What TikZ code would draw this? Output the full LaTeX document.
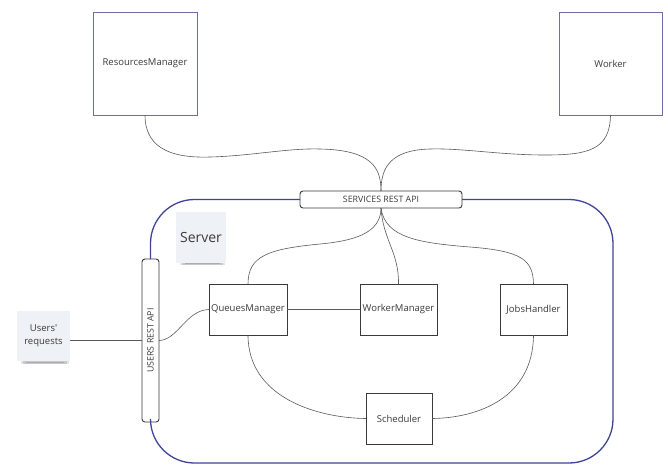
\documentclass[tikz,border=0pt]{standalone}
\usepackage{fontspec}
\setmainfont{Open Sans}
\usepackage{graphicx}
\definecolor{topbox}{HTML}{6B6FA8}
\definecolor{srvblue}{HTML}{3F4499}
\definecolor{boxline}{HTML}{3A3A3A}
\definecolor{wire}{HTML}{5A5A5A}
\definecolor{txt}{HTML}{3A3A3A}
\definecolor{note}{HTML}{EEF2F7}
\tikzset{
  topbox/.style={draw=topbox,line width=1pt,inner sep=0pt,outer sep=0pt,font=\fontsize{9.5}{11}\selectfont,text=txt},
  compbox/.style={draw=boxline,line width=1pt,inner sep=0pt,outer sep=0pt,fill=white,font=\fontsize{9.5}{11}\selectfont,text=txt},
  apibox/.style={draw=boxline,line width=0.9pt,rounded corners=3pt,inner sep=0pt,outer sep=0pt,fill=white,font=\fontsize{8.8}{10}\selectfont,text=txt},
  notebox/.style={fill=note,inner sep=0pt,outer sep=0pt,text=txt,align=center},
  wireline/.style={draw=wire,line width=0.6pt},
  srvline/.style={draw=srvblue,line width=1.3pt,rounded corners=44pt}
}
\begin{document}
\begin{tikzpicture}[x=1pt,y=-1pt]
\useasboundingbox (0,0) rectangle (668,464);
\fill[white] (0,0) rectangle (668,464);

% server outline
\node[apibox,minimum width=162,minimum height=17] (sapi) at (381,199.5) {SERVICES REST API};
\node[apibox,minimum width=17,minimum height=163] (uapi) at (150.5,340.5) {\rotatebox{90}{USERS REST API}};
\draw[srvline] (uapi.north) -- (150.5,199.5) -- (sapi.west);
\draw[srvline] (sapi.east) -- (613,199.5) -- (613,463) -- (150.5,463) -- (uapi.south);

% top boxes
\node[topbox,minimum width=104,minimum height=103] (rm) at (145,63.5) {ResourcesManager};
\node[topbox,minimum width=103,minimum height=103] (wk) at (610.5,63.5) {Worker};

% notes shadows
\foreach \a/\b/\yy in {178/226/262, 19/70/361}{
  \fill[black,opacity=0.10] (\a+2,\yy-1) rectangle (\b-1,\yy+3);
  \fill[black,opacity=0.12] (\a+4,\yy) rectangle (\b-3,\yy+2.5);
  \fill[black,opacity=0.15] (\a+7,\yy+0.5) rectangle (\b-6,\yy+2);
}
\node[notebox,minimum width=50,minimum height=51,font=\fontsize{14}{16}\selectfont] (srv) at (201,237.5) {Server};
\node[notebox,minimum width=53,minimum height=50,font=\fontsize{9.5}{13}\selectfont] (ureq) at (43.5,336) {Users\textquotesingle\\requests};

% components
\node[compbox,minimum width=78,minimum height=51] (qm) at (248,309.5) {QueuesManager};
\node[compbox,minimum width=77,minimum height=51] (wm) at (398.5,309.5) {WorkerManager};
\node[compbox,minimum width=67,minimum height=51] (jh) at (533.5,309.5) {JobsHandler};
\node[compbox,minimum width=66,minimum height=51] (sch) at (399,418.5) {Scheduler};

% wires top
\draw[wireline] (rm.south) .. controls (145,152) and (178,158) .. (210,157)
   .. controls (250,156) and (288,148) .. (320,149)
   .. controls (372,150) and (381,168) .. (sapi.north);
\draw[wireline] (wk.south) .. controls (610,150) and (588,155) .. (545,155)
   .. controls (500,155) and (462,148) .. (430,149)
   .. controls (390,150) and (381,168) .. (sapi.north);

% wires from services
\draw[wireline] (sapi.south) .. controls (381,234) and (352,241) .. (320,244)
   .. controls (268,249) and (248,256) .. (qm.north);
\draw[wireline] (sapi.south) .. controls (383,240) and (399,252) .. (wm.north);
\draw[wireline] (sapi.south) .. controls (385,238) and (420,243) .. (470,247)
   .. controls (522,251) and (533,260) .. (jh.north);

% left wires
\draw[wireline] (ureq.east |- uapi.west) -- (uapi.west);
\draw[wireline] (uapi.east) .. controls (178,340) and (186,310) .. (qm.west);
\draw[wireline] (qm.east) -- (wm.west);

% scheduler wires
\draw[wireline] (qm.south) .. controls (248,398) and (318,418) .. (sch.west);
\draw[wireline] (jh.south) .. controls (533,398) and (478,418) .. (sch.east);
\end{tikzpicture}
\end{document}
